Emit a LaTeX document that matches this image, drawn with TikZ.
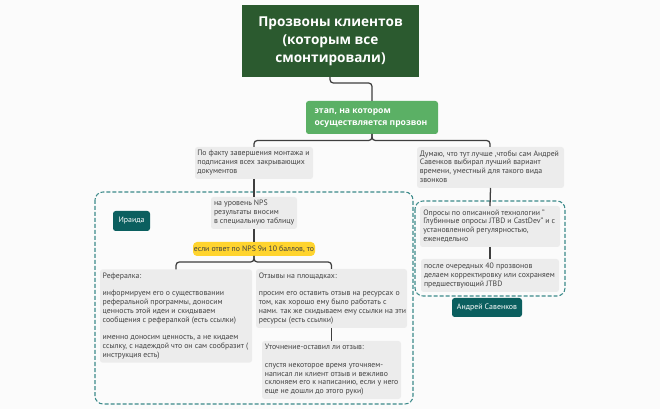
\documentclass[tikz,border=0pt]{standalone}
\usepackage{fontspec}
\setmainfont{PT Sans}
\newfontfamily\headfont{Open Sans}
\usetikzlibrary{calc}
\definecolor{bgc}{HTML}{FBFBFB}
\definecolor{titlec}{HTML}{2B5A2F}
\definecolor{greenc}{HTML}{5BB065}
\definecolor{grayc}{HTML}{ECECEC}
\definecolor{tealc}{HTML}{0B5F5F}
\definecolor{dashc}{HTML}{3C8A8A}
\definecolor{yellowc}{HTML}{FFD42E}
\definecolor{linec}{HTML}{3F3F3F}
\definecolor{textc}{HTML}{434343}
\newcommand\tlines[2]{\raisebox{-0.9pt}{\makebox[#1][l]{\begin{tabular}{@{}l@{}}#2\end{tabular}}}}
\tikzset{
  x=0.75pt,y=-0.75pt,
  box/.style={rectangle,rounded corners=2pt,inner sep=0pt,outer sep=0pt,align=left},
  graybox/.style={box,fill=grayc,text=textc,font=\fontsize{5.85}{6.6}\selectfont},
  tealbox/.style={box,fill=tealc,text=white,align=center,font=\fontsize{5.9}{6.6}\selectfont},
  link/.style={draw=linec,line width=0.95pt,rounded corners=2.5pt},
  frame/.style={draw=dashc,line width=0.8pt,dash pattern=on 3pt off 1.5pt,rounded corners=6pt,fill=none},
}
\begin{document}
\begin{tikzpicture}
\useasboundingbox[fill=bgc] (0,0) rectangle (660,409);
% dashed frames
\draw[frame] (95,192) rectangle (413,404);
\draw[frame] (415,201) rectangle (565,296);
% nodes
\node[box,rounded corners=0pt,fill=titlec,text=white,minimum width=132.75pt,minimum height=54pt,font=\headfont\fontsize{10.2}{13.5}\selectfont\bfseries] (title) at (330.5,41) {\raisebox{-0.8pt}{\begin{tabular}{@{}c@{}}Прозвоны клиентов\\(которым все\\смонтировали)\end{tabular}}};
\node[box,fill=greenc,text=white,minimum width=99pt,minimum height=24.75pt,font=\headfont\fontsize{6.45}{9}\selectfont\bfseries] (stage) at (372,117.5) {\tlines{86pt}{этап, на котором\\осуществляется прозвон}};
\node[graybox,minimum width=88.5pt,minimum height=24pt] (a) at (254,163) {\tlines{85pt}{По факту завершения монтажа и\\подписания всех закрывающих\\документов}};
\node[graybox,minimum width=110.25pt,minimum height=30.75pt] (b) at (490.5,167.5) {\tlines{106pt}{Думаю, что тут лучше ,чтобы сам Андрей\\Савенков выбирал лучший вариант\\времени, уместный для такого вида\\звонков}};
\node[graybox,minimum width=64.5pt,minimum height=24pt] (nps) at (254,213) {\tlines{60pt}{на уровень NPS\\результаты вносим\\в специальную таблицу}};
\node[box,rounded corners=3pt,fill=yellowc,text=black!75,align=center,minimum width=91.5pt,minimum height=10.5pt,font=\fontsize{5.85}{6.6}\selectfont] (yes) at (254,249) {если ответ по NPS 9и 10 баллов, то};
\node[tealbox,minimum width=27.75pt,minimum height=15pt] (ira) at (131.5,221) {Ираида};
\node[graybox,minimum width=114pt,minimum height=70pt] (ref) at (176,316) {\tlines{110pt}{Рефералка:\\[6.6pt]информируем его о существовании\\реферальной программы, доносим\\ценность этой идеи и скидываем\\сообщения с рефералкой (есть ссылки)\\[6.6pt]именно доносим ценность, а не кидаем\\ссылку, с надеждой что он сам сообразит (\\инструкция есть)}};
\node[graybox,minimum width=113.25pt,minimum height=44.25pt] (otz) at (331.5,298.5) {\tlines{109pt}{Отзывы на площадках:\\[6.6pt]просим его оставить отзыв на ресурсах о\\том, как хорошо ему было работать с\\нами. так же скидываем ему ссылки на эти\\ресурсы (есть ссылки)}};
\node[graybox,minimum width=104.25pt,minimum height=43.5pt] (uto) at (331.5,370) {\tlines{100pt}{Уточнение-оставил ли отзыв:\\[6.6pt]спустя некоторое время уточняем-\\написал ли клиент отзыв и вежливо\\склоняем его к написанию, если у него\\еще не дошли до этого руки)}};
\node[graybox,minimum width=105pt,minimum height=30.75pt] (c) at (490,226.5) {\tlines{100pt}{Опросы по описанной технологии "\\Глубинные опросы JTBD  и CastDev" и с\\установленной регулярностью,\\еженедельно}};
\node[graybox,minimum width=103.5pt,minimum height=24.75pt] (d) at (490,275.5) {\tlines{99pt}{после очередных 40 прозвонов\\делаем корректировку или сохраняем\\предшествующий  JTBD}};
\node[tealbox,minimum width=52.5pt,minimum height=14.25pt] (and) at (487,307.5) {Андрей Савенков};
% connectors
\draw[link] ($(title.south)+(-0.5,0)$) -- ++(0,6) -| (stage.north);
\draw[link] (stage.south) -- ++(0,6.5) -| (a.north);
\draw[link] (stage.south) -- ++(0,6.5) -| ($(b.north)+(-0.5,0)$);
\draw[link] (a.south) -- (nps.north);
\draw[link] (nps.south) -- (yes.north);
\draw[link] (yes.south) -- ++(0,6) -| (ref.north);
\draw[link] (yes.south) -- ++(0,6) -| (otz.north);
\draw[link] (otz.south) -- (uto.north);
\draw[link] (b.south) -- (c.north);
\draw[link] (c.south) -- (d.north);
\end{tikzpicture}
\end{document}
